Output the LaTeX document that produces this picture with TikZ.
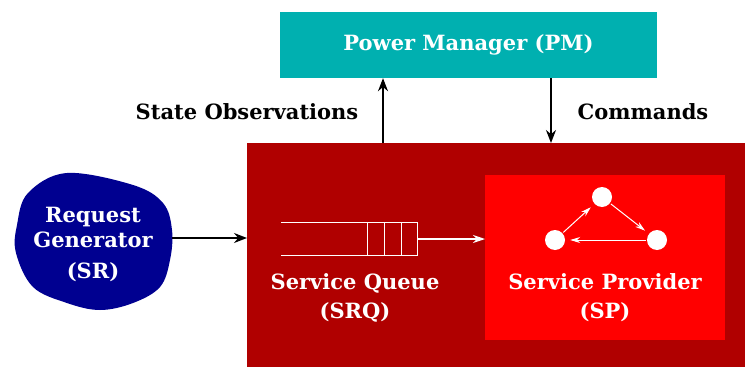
\documentclass[tikz,border=0pt]{standalone}
\usepackage{fontspec}
\setmainfont{DejaVu Serif}
\usetikzlibrary{arrows.meta}
\definecolor{pmteal}{HTML}{00B0B0}
\definecolor{sysred}{HTML}{B00000}
\definecolor{spred}{HTML}{FF0000}
\definecolor{blobblue}{HTML}{000090}
\tikzset{
  lbl/.style={font=\bfseries\fontsize{21}{24}\selectfont, align=center, inner sep=0pt},
  wlbl/.style={lbl, text=white},
  conn/.style={line width=1.4pt, -{Stealth[length=13pt,width=10pt]}},
  wconn/.style={white, line width=1.2pt, -{Stealth[length=12pt,width=8pt]}},
  state/.style={circle, fill=white, minimum size=20pt, inner sep=0pt},
  sparrow/.style={white, line width=1pt, -{Stealth[length=10pt,width=6pt]}, shorten >=5pt, shorten <=1pt},
}
\begin{document}
\begin{tikzpicture}[x=1pt,y=-1pt]
\useasboundingbox (0,0) rectangle (745,367);
% power manager
\node[fill=pmteal, minimum width=377pt, minimum height=66pt, inner sep=0pt] (pm) at (468.5,45) {};
\node[wlbl] (pmtext) at (468.5,45) {Power Manager (PM)};
% system box
\node[fill=sysred, minimum width=498pt, minimum height=224pt, inner sep=0pt, anchor=north west] (sys) at (247,143) {};
% service provider box
\node[fill=spred, minimum width=240pt, minimum height=165pt, inner sep=0pt, anchor=north west] (sp) at (485,175) {};
% blob
\fill[blobblue] plot[smooth cycle, tension=0.6] coordinates {(67,173) (133,185) (163,203) (172,230) (170,260) (160,287) (133,303) (100,310) (67,303) (33,287) (16,253) (17,225) (28,193)};
\coordinate (blobR) at (172,238);
\node[wlbl] (sr) at (93,244) {Request\\[1pt]Generator\\[7pt](SR)};
% labels
\node[lbl] (so) at (247,112) {State Observations};
\node[lbl] (cmd) at (643,112) {Commands};
% vertical connectors
\coordinate (up0) at (383,143);
\coordinate (dn1) at (551,143);
\draw[conn] (up0) -- (up0 |- pm.south);
\draw[conn] (dn1 |- pm.south) -- (dn1);
% request arrow
\draw[conn] (blobR) -- (sys.west |- blobR);
% queue
\draw[white, line width=1pt] (281,222) -- (417,222) -- (417,255) -- (281,255);
\foreach \x in {367,384,401} \draw[white, line width=1pt] (\x,222) -- (\x,255);
\coordinate (qout) at (417,239);
\draw[wconn] (qout) -- (sp.west |- qout);
\node[wlbl] (srq) at (355,298) {Service Queue\\[5pt](SRQ)};
% SP states
\node[state] (s1) at (602,197) {};
\node[state] (s2) at (555,240) {};
\node[state] (s3) at (657,240) {};
\draw[sparrow] (s2) -- (s1);
\draw[sparrow] (s1) -- (s3);
\draw[sparrow] (s3) -- (s2);
\node[wlbl] (sptext) at (605,298) {Service Provider\\[5pt](SP)};
\end{tikzpicture}
\end{document}
